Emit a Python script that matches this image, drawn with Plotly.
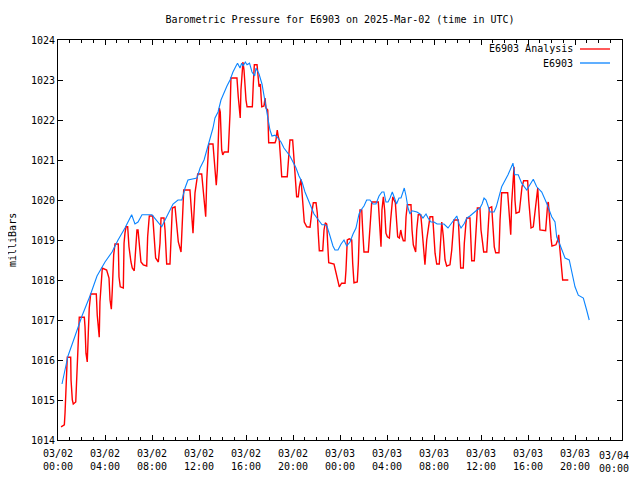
import pandas as pd
import plotly.graph_objects as go

BASE = pd.Timestamp("2025-03-02 00:00")

# E6903 Analysis (hours since 2025-03-02 00:00 UTC, millibars)
analysis_hours = [
    0.26, 0.54, 0.60, 0.66, 0.79, 1.08, 1.11, 1.22, 1.30, 1.51, 1.59, 1.68, 1.73, 1.81,
    2.24, 2.30, 2.38, 2.49, 2.58, 2.66, 2.78, 3.26, 3.34, 3.46, 3.51, 3.57, 3.66, 3.77,
    4.14, 4.34, 4.43, 4.54, 4.62, 4.74, 4.85, 5.13, 5.19, 5.30, 5.56, 5.62, 5.70, 5.79,
    5.93, 6.04, 6.21, 6.32, 6.49, 6.61, 6.72, 6.81, 6.92, 7.06, 7.26, 7.55, 7.63, 7.77,
    8.06, 8.17, 8.31, 8.54, 8.68, 8.77, 9.02, 9.11, 9.19, 9.25, 9.53, 9.62, 9.73, 9.96,
    10.13, 10.24, 10.47, 10.58, 10.70, 11.23, 11.38, 11.49, 11.66, 11.80, 11.89, 12.23,
    12.37, 12.45, 12.57, 12.66, 12.74, 12.83, 13.19, 13.30, 13.42, 13.47, 13.56, 13.64,
    13.73, 13.81, 13.87, 13.93, 14.02, 14.15, 14.49, 14.55, 14.64, 14.72, 15.23, 15.34,
    15.43, 15.51, 15.57, 15.69, 15.74, 15.83, 15.91, 16.00, 16.09, 16.54, 16.62, 16.71,
    16.94, 17.00, 17.11, 17.22, 17.34, 17.53, 17.62, 17.70, 17.85, 17.93, 18.47, 18.55,
    18.66, 18.75, 18.83, 18.95, 19.04, 19.51, 19.60, 19.74, 19.97, 20.09, 20.20, 20.31,
    20.45, 20.54, 20.68, 20.79, 20.88, 20.96, 21.17, 21.45, 21.59, 21.73, 21.96, 22.07,
    22.15, 22.24, 22.53, 22.64, 22.75, 22.87, 22.95, 23.04, 23.49, 23.60, 23.77, 23.94,
    24.14, 24.43, 24.51, 24.62, 24.79, 25.00, 25.08, 25.19, 25.47, 25.56, 25.70, 25.85,
    25.93, 26.04, 26.41, 26.55, 26.70, 27.26, 27.34, 27.49, 27.57, 27.69, 27.80, 27.91,
    28.03, 28.20, 28.31, 28.49, 28.60, 28.71, 28.83, 28.91, 29.05, 29.17, 29.28, 29.39,
    29.53, 29.62, 29.73, 30.04, 30.13, 30.24, 30.44, 30.53, 30.66, 30.87, 30.95, 31.09,
    31.23, 31.38, 31.51, 31.66, 31.89, 32.00, 32.09, 32.23, 32.45, 32.57, 32.66, 32.79,
    32.94, 33.08, 33.36, 33.51, 33.59, 33.70, 34.07, 34.13, 34.21, 34.27, 34.49, 34.58,
    34.72, 34.78, 35.06, 35.12, 35.21, 35.43, 35.55, 35.69, 35.91, 36.00, 36.14, 36.23,
    36.49, 36.57, 36.71, 36.91, 37.00, 37.13, 37.25, 37.53, 37.62, 37.76, 38.27, 38.38,
    38.47, 38.53, 38.61, 38.70, 38.81, 38.89, 38.98, 39.26, 39.38, 39.49, 39.63, 39.97,
    40.06, 40.17, 40.26, 40.45, 40.60, 40.74, 40.83, 40.91, 41.02, 41.50, 41.59, 41.68,
    41.73, 41.81, 41.96, 42.04, 42.38, 42.53, 42.61, 42.72, 42.81, 42.95, 43.43,
]
analysis_mb = [
    1014.33, 1014.38, 1014.68, 1015.23, 1016.07, 1016.07, 1015.5, 1015.0, 1014.9, 1014.95,
    1015.43, 1016.07, 1016.57, 1017.07, 1017.07, 1016.83, 1016.17, 1015.95, 1016.68, 1017.3,
    1017.65, 1017.65, 1017.12, 1016.8, 1016.57, 1017.45, 1018.0, 1018.3, 1018.25, 1018.05,
    1017.5, 1017.27, 1017.75, 1018.63, 1018.9, 1018.9, 1018.08, 1017.83, 1017.8, 1018.92,
    1019.17, 1019.33, 1019.33, 1018.83, 1018.45, 1018.3, 1018.23, 1018.92, 1019.25, 1019.25,
    1018.95, 1018.45, 1018.38, 1018.35, 1019.08, 1019.6, 1019.6, 1019.08, 1018.55, 1018.45,
    1018.92, 1019.55, 1019.55, 1019.25, 1018.67, 1018.4, 1018.4, 1019.17, 1019.8, 1019.83,
    1019.33, 1018.95, 1018.7, 1019.5, 1020.25, 1020.25, 1019.43, 1019.17, 1020.18, 1020.43,
    1020.65, 1020.65, 1020.2, 1019.9, 1019.58, 1020.5, 1021.0, 1021.4, 1021.4, 1020.92,
    1020.67, 1020.37, 1020.75, 1021.75, 1022.3, 1022.2, 1021.67, 1021.25, 1021.13, 1021.2,
    1021.2, 1021.55, 1022.17, 1023.05, 1023.05, 1022.58, 1022.25, 1022.05, 1022.75, 1023.42,
    1023.45, 1023.25, 1022.83, 1022.5, 1022.33, 1022.33, 1022.9, 1023.38, 1023.38, 1023.1,
    1022.83, 1022.9, 1022.33, 1022.35, 1022.55, 1022.3, 1022.25, 1021.43, 1021.43, 1021.5,
    1021.75, 1021.58, 1021.5, 1021.0, 1020.58, 1020.58, 1020.9, 1021.5, 1021.5, 1021.0,
    1020.58, 1020.08, 1020.08, 1020.33, 1020.52, 1020.12, 1019.75, 1019.45, 1019.33, 1019.32,
    1019.67, 1019.93, 1019.93, 1019.67, 1019.17, 1018.73, 1018.73, 1019.25, 1019.43, 1019.4,
    1018.92, 1018.43, 1018.4, 1018.25, 1018.0, 1017.83, 1017.92, 1017.92, 1018.25, 1019.0,
    1019.03, 1019.0, 1018.42, 1017.93, 1017.95, 1018.42, 1019.75, 1019.75, 1019.25, 1018.7,
    1018.7, 1019.25, 1019.95, 1019.95, 1019.45, 1018.83, 1019.75, 1020.08, 1019.75, 1019.17,
    1019.08, 1019.05, 1019.5, 1020.08, 1020.0, 1019.93, 1019.42, 1019.08, 1019.05, 1019.25,
    1019.08, 1018.98, 1018.98, 1019.58, 1019.88, 1019.88, 1019.25, 1018.88, 1018.7, 1019.25,
    1019.63, 1019.63, 1019.38, 1018.92, 1018.38, 1019.0, 1019.33, 1019.58, 1019.58, 1019.17,
    1018.67, 1018.4, 1018.4, 1019.0, 1019.45, 1019.1, 1018.5, 1018.35, 1018.38, 1018.75,
    1019.17, 1019.5, 1019.5, 1019.08, 1018.5, 1018.3, 1018.3, 1018.92, 1019.42, 1019.55,
    1019.55, 1019.08, 1018.48, 1018.48, 1019.08, 1019.8, 1019.8, 1019.25, 1018.92, 1018.7,
    1018.7, 1019.25, 1019.8, 1019.83, 1019.33, 1018.83, 1018.68, 1018.68, 1019.5, 1020.18,
    1020.18, 1019.67, 1019.38, 1019.13, 1019.92, 1020.33, 1020.83, 1020.0, 1019.67, 1019.7,
    1020.0, 1020.33, 1020.48, 1020.48, 1020.0, 1019.5, 1019.3, 1019.33, 1019.75, 1020.17,
    1020.3, 1019.83, 1019.25, 1019.23, 1019.62, 1019.92, 1019.95, 1019.58, 1019.04, 1018.85,
    1018.88, 1019.0, 1019.13, 1018.75, 1018.5, 1018.0, 1018.0,
]

# E6903 station observations
station_hours = [
    0.34, 0.85, 1.45, 2.04, 2.72, 3.32, 4.00, 4.60, 5.11, 5.70, 6.27, 6.55, 6.81, 7.15,
    8.00, 8.34, 8.83, 9.11, 9.53, 9.79, 10.21, 10.55, 10.81, 11.06, 11.83, 12.09, 12.43,
    12.68, 12.94, 13.19, 13.36, 13.62, 13.87, 14.13, 14.38, 14.64, 14.89, 15.15, 15.28,
    15.49, 15.63, 15.76, 15.94, 16.09, 16.30, 16.51, 16.74, 16.85, 17.11, 17.36, 17.53,
    17.70, 17.87, 18.04, 18.21, 18.47, 18.72, 18.98, 19.23, 19.49, 19.74, 20.00, 20.26,
    20.51, 20.77, 21.02, 21.28, 21.53, 21.79, 22.04, 22.30, 22.47, 22.72, 22.89, 23.15,
    23.40, 23.57, 23.83, 24.09, 24.34, 24.57, 24.85, 25.11, 25.36, 25.62, 25.79, 26.04,
    26.27, 26.55, 26.81, 27.06, 27.32, 27.57, 27.74, 27.91, 28.09, 28.26, 28.45, 28.64,
    28.81, 29.02, 29.19, 29.36, 29.47, 29.62, 29.79, 29.96, 30.13, 30.30, 30.55, 30.81,
    31.06, 31.32, 31.49, 31.74, 32.00, 32.26, 32.51, 32.85, 33.19, 33.45, 33.70, 33.94,
    34.13, 34.30, 34.55, 34.81, 35.06, 35.40, 35.66, 35.91, 36.09, 36.26, 36.43, 36.60,
    36.77, 37.11, 37.30, 37.76, 38.30, 38.72, 38.87, 39.17, 39.46, 39.89, 40.45, 40.74,
    41.17, 41.59, 42.02, 42.30, 42.44, 42.72, 43.15, 43.51, 43.72, 44.00, 44.28, 44.71,
    44.99, 45.21,
]
station_mb = [
    1015.4, 1016.1, 1016.6, 1017.1, 1017.6, 1018.1, 1018.45, 1018.7, 1019.0, 1019.3,
    1019.63, 1019.4, 1019.45, 1019.63, 1019.63, 1019.5, 1019.33, 1019.5, 1019.75, 1019.9,
    1020.0, 1020.0, 1020.3, 1020.5, 1020.55, 1020.8, 1021.0, 1021.25, 1021.55, 1021.8,
    1022.05, 1022.2, 1022.5, 1022.7, 1022.85, 1023.0, 1023.2, 1023.35, 1023.42, 1023.3,
    1023.42, 1023.35, 1023.45, 1023.38, 1023.42, 1023.2, 1023.1, 1023.3, 1023.15, 1022.9,
    1022.6, 1022.3, 1022.0, 1021.75, 1021.6, 1021.62, 1021.55, 1021.45, 1021.3, 1021.2,
    1021.1, 1020.95, 1020.8, 1020.6, 1020.45, 1020.2, 1020.0, 1019.8, 1019.65, 1019.55,
    1019.45, 1019.38, 1019.38, 1019.35, 1019.1, 1018.85, 1018.75, 1018.75, 1018.9, 1019.0,
    1018.85, 1018.95, 1019.15, 1019.3, 1019.65, 1019.75, 1019.85, 1020.0, 1020.0, 1019.9,
    1019.9, 1020.1, 1020.2, 1020.2, 1019.95, 1019.95, 1020.05, 1020.2, 1020.05, 1019.9,
    1020.05, 1020.05, 1020.2, 1020.3, 1020.1, 1019.8, 1019.65, 1019.73, 1019.72, 1019.7,
    1019.65, 1019.55, 1019.65, 1019.55, 1019.45, 1019.45, 1019.4, 1019.4, 1019.4, 1019.3,
    1019.4, 1019.5, 1019.6, 1019.4, 1019.3, 1019.4, 1019.55, 1019.6, 1019.7, 1019.75,
    1019.8, 1019.9, 1020.05, 1020.0, 1019.85, 1019.7, 1019.7, 1019.83, 1020.33, 1020.63,
    1020.92, 1020.63, 1020.63, 1020.42, 1020.25, 1020.52, 1020.33, 1020.2, 1019.92, 1019.58,
    1019.45, 1019.08, 1018.88, 1018.55, 1018.5, 1018.17, 1017.83, 1017.62, 1017.55, 1017.25,
    1017.0,
]

# x tick positions (hours) and their labels
tick_hours = list(range(0, 49, 4))
tick_times = [BASE + pd.Timedelta(hours=h) for h in tick_hours]
tick_labels = [t.strftime("%m/%d<br>%H:%M") for t in tick_times]

series_names = ["E6903 Analysis", "E6903"]
series_colors = ["#ff0000", "#0a84ff"]

FONT = "DejaVu Sans Mono"

# The page body has an 8px default margin, so the figure is drawn 8px
# smaller with margins that land the plot area on the reference's
# 58..622 x 40..440 window box.
OFF = 8
W, H = 640 - OFF, 480 - OFF
L, R, T = 58 - OFF, 18, 40 - OFF
B = H - T - 400
PW, PH = W - L - R, H - T - B

def to_time(hours):
    return BASE + pd.to_timedelta(pd.Series(hours), unit="h")

fig = go.Figure()
fig.add_trace(go.Scatter(x=to_time(analysis_hours), y=analysis_mb, mode="lines",
                         name=series_names[0],
                         line=dict(color=series_colors[0], width=1.4)))
fig.add_trace(go.Scatter(x=to_time(station_hours), y=station_mb, mode="lines",
                         name=series_names[1],
                         line=dict(color=series_colors[1], width=1.1)))

# gnuplot-style key: text right-aligned with line sample to its right
key_rows_px = [49, 63]  # window pixel rows of the key entries
for name, color, ypx in zip(series_names, series_colors, key_rows_px):
    yk = 1 - (ypx - 40) / PH
    fig.add_annotation(xref="paper", yref="paper", x=(575 - 58) / PW, y=yk, text=name,
                       showarrow=False, xanchor="right", yanchor="middle",
                       font=dict(family=FONT, size=10, color="black"))
    fig.add_shape(type="line", xref="paper", yref="paper",
                  x0=(580 - 58) / PW, x1=(610 - 58) / PW, y0=yk, y1=yk,
                  line=dict(color=color, width=1.3))

# y axis title (rotated)
fig.add_annotation(xref="paper", yref="paper", x=(12 - 58) / PW, y=0.5, text="milliBars",
                   showarrow=False, textangle=-90, xanchor="center", yanchor="middle",
                   font=dict(family=FONT, size=10, color="black"))

# last x tick label, kept inside the visible page edge
fig.add_annotation(xref="paper", yref="paper", x=(631 - 58) / PW, y=0,
                   yshift=-8, text=tick_labels[-1], showarrow=False,
                   xanchor="right", yanchor="top", align="center",
                   font=dict(family=FONT, size=10, color="black"))

axis_common = dict(
    showline=True, linecolor="black", linewidth=1, mirror="ticks",
    ticks="inside", tickcolor="black", showgrid=False, zeroline=False,
    automargin=False,
    tickfont=dict(family=FONT, size=10, color="black"),
)

fig.update_xaxes(
    type="date",
    range=[BASE, BASE + pd.Timedelta(hours=48)],
    tickmode="array", tickvals=tick_times, ticktext=tick_labels[:-1] + [""],
    ticklen=5, ticklabelstandoff=4,
    minor=dict(ticks="inside", dtick=3600 * 1000, ticklen=3, tickcolor="black",
               showgrid=False),
    **axis_common,
)
fig.update_yaxes(
    range=[1014, 1024], dtick=1, ticklen=5,
    **axis_common,
)

fig.update_layout(
    width=W, height=H,
    margin=dict(l=L, r=R, t=T, b=B, pad=0),
    paper_bgcolor="white", plot_bgcolor="white",
    showlegend=False,
    title=dict(text="Barometric Pressure for E6903 on 2025-Mar-02 (time in UTC)",
               x=(L + PW / 2) / W, xanchor="center",
               yref="container", y=1 - (19 - OFF) / H, yanchor="middle", automargin=False,
               font=dict(family=FONT, size=10, color="black")),
)

fig.write_html("out.html")
